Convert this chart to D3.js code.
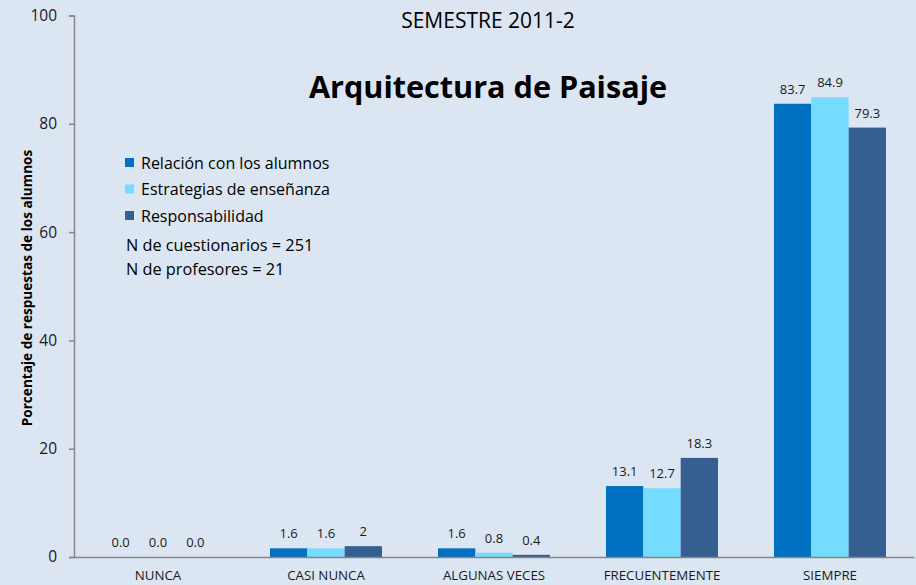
<!DOCTYPE html>
<html>
<head>
<meta charset="utf-8">
<script src="https://cdn.jsdelivr.net/npm/d3@7"></script>
<style>
  body { margin: 0; background: #dce6f2; }
  svg { display: block; font-family: "Open Sans", Lato, sans-serif; }
</style>
</head>
<body>
<div id="chart"></div>
<script>
var categories = ["NUNCA", "CASI NUNCA", "ALGUNAS VECES", "FRECUENTEMENTE", "SIEMPRE"];
var seriesNames = ["Relación con los alumnos", "Estrategias de enseñanza", "Responsabilidad"];
var relacion = [0.0, 1.6, 1.6, 13.1, 83.7];
var estrategias = [0.0, 1.6, 0.8, 12.7, 84.9];
var responsabilidad = [0.0, 2, 0.4, 18.3, 79.3];
var labelText = [
    ["0.0", "1.6", "1.6", "13.1", "83.7"],
    ["0.0", "1.6", "0.8", "12.7", "84.9"],
    ["0.0", "2", "0.4", "18.3", "79.3"]
];
var yTicks = [0, 20, 40, 60, 80, 100];
var notes = ["N de cuestionarios = 251", "N de profesores = 21"];

var colors = ["#0070c0", "#75dbff", "#355f91"];
var series = [relacion, estrategias, responsabilidad];

var W = 916, H = 585;
var margin = {top: 15.5, right: 2, bottom: 28, left: 74};

var svg = d3.select("#chart").append("svg")
    .attr("width", W)
    .attr("height", H)
    .style("background-color", "#dce6f2");

var x = d3.scaleBand()
    .domain(categories)
    .range([margin.left, W - margin.right])
    .paddingInner(0)
    .paddingOuter(0);

var x1 = d3.scaleBand()
    .domain([0, 1, 2])
    .range([0, x.bandwidth() * 2 / 3]);

var y = d3.scaleLinear()
    .domain([0, 100])
    .range([H - margin.bottom, margin.top]);

// bars
var groups = svg.selectAll("g.grp")
    .data(categories)
    .enter()
    .append("g")
    .attr("class", "grp")
    .attr("transform", function(d) {
        return "translate(" + (x(d) + x.bandwidth() / 6) + ",0)";
    });

groups.selectAll("rect")
    .data(function(d, i) {
        return series.map(function(s, k) { return {k: k, v: s[i], t: labelText[k][i]}; });
    })
    .enter()
    .append("rect")
    .attr("x", function(d) { return x1(d.k); })
    .attr("width", x1.bandwidth())
    .attr("y", function(d) { return y(d.v); })
    .attr("height", function(d) { return y(0) - y(d.v); })
    .style("fill", function(d) { return colors[d.k]; });

groups.selectAll("text")
    .data(function(d, i) {
        return series.map(function(s, k) { return {k: k, v: s[i], t: labelText[k][i]}; });
    })
    .enter()
    .append("text")
    .attr("x", function(d) { return x1(d.k) + x1.bandwidth() / 2; })
    .attr("y", function(d) { return y(d.v) - 10; })
    .attr("text-anchor", "middle")
    .style("font-size", "13px")
    .style("fill", "#1a1a1a")
    .text(function(d) { return d.t; });

// axes
var yAxis = svg.append("g")
    .attr("transform", "translate(" + margin.left + ",0)")
    .call(d3.axisLeft(y).tickValues(yTicks).tickSize(5).tickPadding(12));
yAxis.selectAll("path, line").style("stroke", "#868686").style("stroke-width", 1.5);
yAxis.selectAll("text").style("font-size", "15.5px").style("fill", "#1a1a1a").style("font-family", "'Open Sans', sans-serif");

var xAxis = svg.append("g")
    .attr("transform", "translate(0," + y(0) + ")")
    .call(d3.axisBottom(x).tickSize(0).tickPadding(14));
xAxis.select("path").style("stroke", "#868686").style("stroke-width", 1.5);
xAxis.selectAll("text").style("font-size", "13.3px").style("fill", "#1a1a1a").style("font-family", "'Open Sans', sans-serif");

// titles
svg.append("text")
    .attr("x", 488).attr("y", 28)
    .attr("text-anchor", "middle")
    .style("font-size", "21px")
    .text("SEMESTRE 2011-2");

svg.append("text")
    .attr("x", 488).attr("y", 98)
    .attr("text-anchor", "middle")
    .style("font-size", "30.6px")
    .style("font-weight", "bold")
    .text("Arquitectura de Paisaje");

svg.append("text")
    .attr("transform", "translate(32," + 288 + ") rotate(-90)")
    .attr("text-anchor", "middle")
    .style("font-size", "13.6px")
    .style("font-weight", "bold")
    .text("Porcentaje de respuestas de los alumnos");

// legend
var legend = svg.append("g").attr("transform", "translate(125,163)");
var items = legend.selectAll("g")
    .data(seriesNames)
    .enter()
    .append("g")
    .attr("transform", function(d, i) { return "translate(0," + (i * 26.5) + ")"; });
items.append("rect")
    .attr("x", 0).attr("y", -5)
    .attr("width", 9).attr("height", 9)
    .style("fill", function(d, i) { return colors[i]; });
items.append("text")
    .attr("x", 16).attr("y", 5.5)
    .style("font-size", "16px")
    .text(function(d) { return d; });

svg.selectAll("text.note")
    .data(notes)
    .enter()
    .append("text")
    .attr("class", "note")
    .attr("x", 126)
    .attr("y", function(d, i) { return 251 + i * 24; })
    .style("font-size", "16.3px")
    .text(function(d) { return d; });
</script>
</body>
</html>
